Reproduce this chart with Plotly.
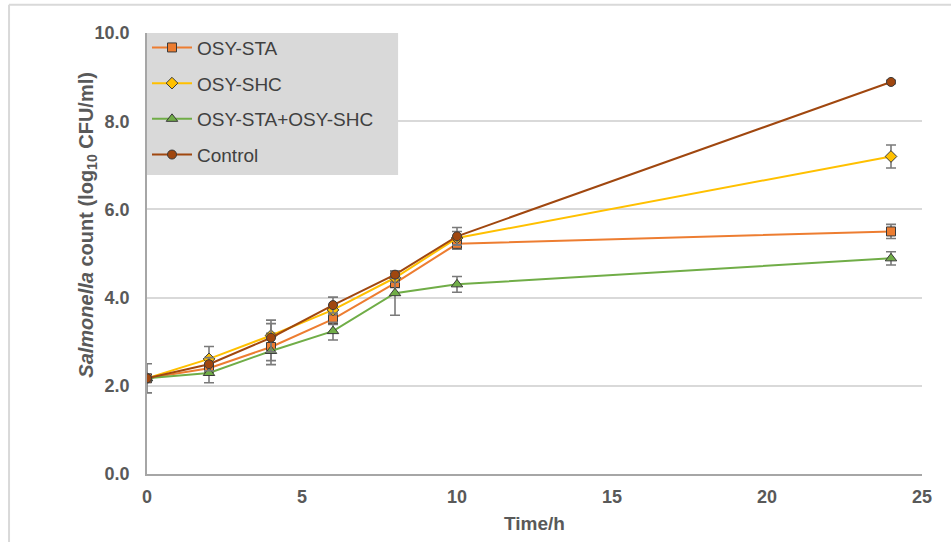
import plotly.graph_objects as go

# Sampling times (h)
time_h = [0, 2, 4, 6, 8, 10, 24]

# Mean log10 CFU/ml and standard deviations per treatment
sta_mean = [2.17, 2.40, 2.88, 3.51, 4.33, 5.22, 5.50]
sta_sd = [0.05, 0.10, 0.31, 0.12, 0.10, 0.12, 0.16]

shc_mean = [2.17, 2.61, 3.14, 3.72, 4.45, 5.35, 7.20]
shc_sd = [0.05, 0.28, 0.35, 0.10, 0.10, 0.15, 0.26]

mix_mean = [2.17, 2.29, 2.79, 3.24, 4.10, 4.30, 4.89]
mix_sd = [0.05, 0.22, 0.31, 0.20, 0.50, 0.18, 0.15]

ctrl_mean = [2.17, 2.49, 3.09, 3.83, 4.52, 5.39, 8.89]
ctrl_sd = [0.33, 0.15, 0.32, 0.18, 0.08, 0.20, 0.04]

y_ticks = [0, 2, 4, 6, 8, 10]
x_ticks = [0, 5, 10, 15, 20, 25]

series = [
    ("OSY-STA", sta_mean, sta_sd, "#ED7D31", "square", 9),
    ("OSY-SHC", shc_mean, shc_sd, "#FFC000", "diamond", 9),
    ("OSY-STA+OSY-SHC", mix_mean, mix_sd, "#70AD47", "triangle-up", 10),
    ("Control", ctrl_mean, ctrl_sd, "#A0470F", "circle", 9),
]

fig = go.Figure()
for i, (name, mean, sd, color, sym, size) in enumerate(series):
    fig.add_trace(go.Scatter(
        x=time_h, y=mean, name=name, mode="lines+markers",
        legendgroup=f"g{i}",
        line=dict(color=color, width=2),
        marker=dict(symbol=sym, size=size, color=color,
                    line=dict(color="#3a3a3a", width=1)),
        error_y=dict(type="data", array=sd, visible=True,
                     color="#7a7a7a", thickness=1.6, width=5),
    ))

label_font = dict(family="Liberation Sans, Arial", size=18, color="#595959")

fig.update_layout(
    width=951, height=542,
    margin=dict(l=147, r=29, t=33, b=68),
    paper_bgcolor="white", plot_bgcolor="white",
    showlegend=True,
    legend=dict(
        x=0, y=1.01, xanchor="left", yanchor="top",
        bgcolor="rgba(0,0,0,0)", borderwidth=0,
        font=dict(family="Liberation Sans, Arial", size=19, color="#404040"),
        tracegroupgap=8, itemwidth=40,
    ),
    xaxis=dict(
        range=[0, 25], tickvals=x_ticks, ticktext=[f"<b>{v}</b>" for v in x_ticks],
        showgrid=False, zeroline=False,
        showline=True, linecolor="#A6A6A6", linewidth=1.5,
        ticks="", tickfont=label_font, ticklabelstandoff=6,
        title=dict(text="<b>Time/h</b>",
                   font=dict(family="Liberation Sans, Arial", size=19, color="#595959"),
                   standoff=10),
    ),
    yaxis=dict(
        range=[0, 10], tickvals=y_ticks,
        ticktext=[f"<b>{v:.1f}</b>" for v in y_ticks],
        showgrid=True, gridcolor="#D9D9D9", gridwidth=1.5,
        zeroline=False, showline=True, linecolor="#A6A6A6", linewidth=1.5,
        ticks="", tickfont=label_font, ticklabelstandoff=12,
    ),
)

# Grey panel behind the legend entries
fig.add_shape(type="rect", xref="paper", yref="paper",
              x0=0, x1=0.324, y0=0.678, y1=1.0,
              fillcolor="#D9D9D9", line=dict(width=0), layer="above")

# Y-axis title with italic genus name and subscripted log base
fig.add_annotation(
    xref="paper", yref="paper", x=-0.095, y=0.565,
    text="<b><i>Salmonella</i> count (log<sub>10</sub> CFU/ml)</b>",
    textangle=-90, showarrow=False,
    font=dict(family="Liberation Sans, Arial", size=20, color="#595959"),
)

# Outer chart frame (left and top edges)
fig.add_shape(type="line", xref="paper", yref="paper",
              x0=-0.178, x1=-0.178, y0=-0.2, y1=1.064,
              line=dict(color="#D9D9D9", width=2))
fig.add_shape(type="line", xref="paper", yref="paper",
              x0=-0.178, x1=1.1, y0=1.064, y1=1.064,
              line=dict(color="#D9D9D9", width=2))

fig.write_html("out.html")
